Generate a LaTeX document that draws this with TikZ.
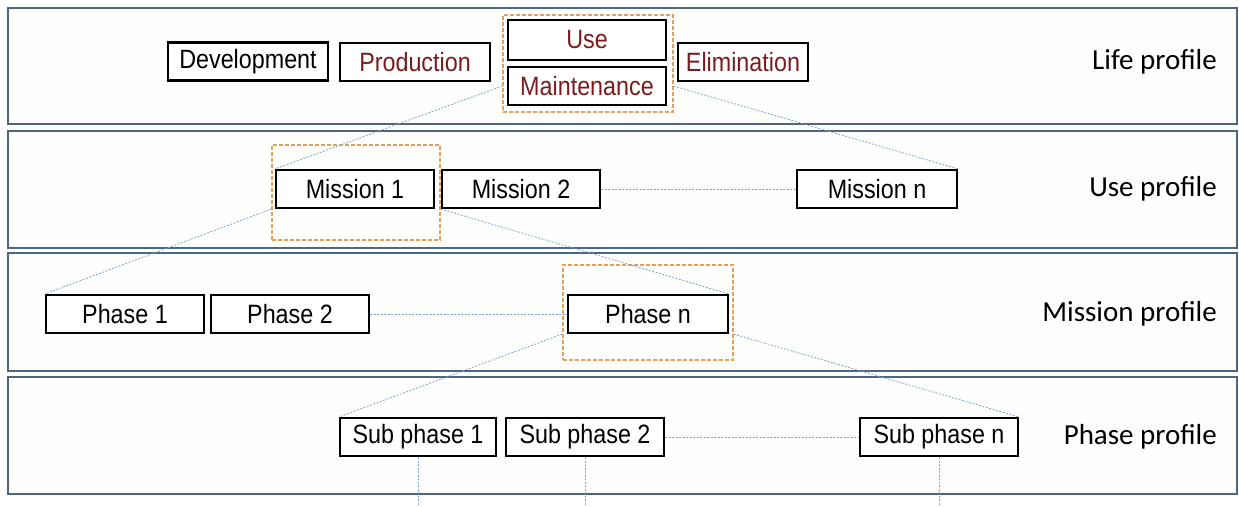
\documentclass[tikz,border=0pt]{standalone}
\usepackage{fontspec}
\setmainfont{Liberation Sans}
\newfontfamily\narrowsans[FakeStretch=0.88]{Liberation Sans}
\newfontfamily\calib{Carlito}
\usetikzlibrary{calc}
\definecolor{bandline}{RGB}{78,102,126}
\definecolor{bandfill}{RGB}{254,254,253}
\definecolor{darkred}{RGB}{122,28,30}
\definecolor{conn}{RGB}{125,165,205}
\definecolor{orangedash}{RGB}{226,160,96}
\tikzset{
  band/.style={draw=bandline, line width=2.4pt, fill=bandfill},
  box/.style={draw=black, line width=2.1pt, fill=white, minimum height=38pt, inner sep=0pt,
    font=\narrowsans\fontsize{26.5}{30}\selectfont},
  redtext/.style={text=darkred},
  focus/.style={draw=orangedash, line width=1.3pt, dash pattern=on 4pt off 2pt, inner sep=0pt},
  link/.style={draw=conn, line width=0.8pt, dash pattern=on 2pt off 1.5pt},
  lbl/.style={anchor=east, inner sep=0pt, font=\calib\fontsize{29}{34}\selectfont}
}
\begin{document}
\begin{tikzpicture}[x=1pt,y=-1pt]
\useasboundingbox (0,0) rectangle (1239,506);
% bands
\draw[band] (8,8) rectangle (1237,124);
\draw[band] (8,131) rectangle (1237,248);
\draw[band] (8,253) rectangle (1237,371);
\draw[band] (8,377) rectangle (1237,494);

% focus boxes
\node[focus, minimum width=170pt, minimum height=97pt] (o1) at (588,63.5) {};
\node[focus, minimum width=168pt, minimum height=95pt] (o2) at (356,192.5) {};
\node[focus, minimum width=170pt, minimum height=95pt] (o3) at (648,312.5) {};

% life profile
\node[box, minimum width=160pt] (dev) at (248,61.5) {Development};
\node[box, minimum width=150pt, redtext] (prod) at (415,62) {Production};
\node[box, minimum width=158pt, minimum height=40pt, redtext] (use) at (587,40) {Use};
\node[box, minimum width=158pt, redtext] (maint) at (587,86) {Maintenance};
\node[box, minimum width=130pt, redtext] (elim) at (743,62) {Elimination};
\node[lbl] (l1) at (1217,62) {Life profile};

% use profile
\node[box, minimum width=158pt] (m1) at (355,189) {Mission 1};
\node[box, minimum width=158pt] (m2) at (521,189) {Mission 2};
\node[box, minimum width=160pt] (mn) at (877,189) {Mission n};
\node[lbl] (l2) at (1217,189) {Use profile};

% mission profile
\node[box, minimum width=158pt] (p1) at (125,314) {Phase 1};
\node[box, minimum width=158pt] (p2) at (290,314) {Phase 2};
\node[box, minimum width=160pt] (pn) at (648,314) {Phase n};
\node[lbl] (l3) at (1217,314) {Mission profile};

% phase profile
\node[box, minimum width=156pt] (s1) at (418,437) {Sub phase 1};
\node[box, minimum width=158pt] (s2) at (585,437) {Sub phase 2};
\node[box, minimum width=158pt] (sn) at (939,437) {Sub phase n};
\node[lbl] (l4) at (1217,437) {Phase profile};

% free ends at the bottom
\coordinate (e1) at (s1.south |- 0,506);
\coordinate (e2) at (s2.south |- 0,506);
\coordinate (e3) at (sn.south |- 0,506);

% connectors
\draw[link] (o1.west |- maint.center) -- (m1.north west);
\draw[link] (o1.east |- maint.center) -- (mn.north east);
\draw[link] (m2.east) -- (mn.west);
\draw[link] (o2.west |- m1.south) -- (p1.north west);
\draw[link] (o2.east |- m1.south) -- (pn.north east);
\draw[link] (p2.east) -- (pn.west);
\draw[link] (o3.west |- pn.south) -- (s1.north west);
\draw[link] (o3.east |- pn.south) -- (sn.north east);
\draw[link] (s2.east) -- (sn.west);
\draw[link] (s1.south) -- (e1);
\draw[link] (s2.south) -- (e2);
\draw[link] (sn.south) -- (e3);
\end{tikzpicture}
\end{document}
